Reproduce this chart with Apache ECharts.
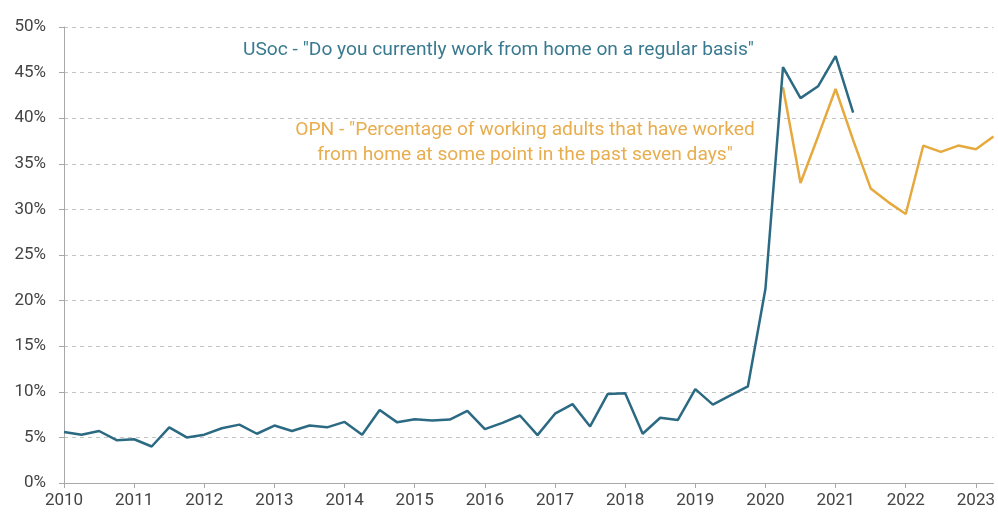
<!DOCTYPE html>
<html>
<head>
<meta charset="utf-8">
<script src="https://cdn.jsdelivr.net/npm/echarts@6/dist/echarts.min.js"></script>
<style>
html, body { margin: 0; padding: 0; background: #fff; }
#chart { width: 998px; height: 514px; }
</style>
</head>
<body>
<div id="chart"></div>
<script>
// quarterly categories, 2010 Q1 .. 2023 Q2
const years = [2010, 2011, 2012, 2013, 2014, 2015, 2016, 2017, 2018, 2019, 2020, 2021, 2022, 2023];
const quarters = [];
years.forEach(function (y) {
    ['Q1', 'Q2', 'Q3', 'Q4'].forEach(function (q) { quarters.push(y + ' ' + q); });
});
quarters.splice(54);  // stops at 2023 Q2

const usocValues = [
    5.6, 5.3, 5.7, 4.7,
    4.8, 4.0, 6.1, 5.0,
    5.3, 6.0, 6.4, 5.4,
    6.3, 5.7, 6.3, 6.1,
    6.7, 5.3, 8.0, 6.65,
    7.0, 6.85, 6.95, 7.9,
    5.9, 6.6, 7.4, 5.25,
    7.6, 8.65, 6.2, 9.75,
    9.85, 5.4, 7.15, 6.9,
    10.3, 8.6, 9.6, 10.6,
    21.3, 45.6, 42.2, 43.5,
    46.8, 40.6
];
// OPN starts in 2020 Q2
const opnStart = '2020 Q2';
const opnValues = [43.4, 32.9, 38.0, 43.2, 37.6, 32.3, 30.8, 29.5, 37.0, 36.3, 37.0, 36.6, 38.0];

const yTicks = [0, 5, 10, 15, 20, 25, 30, 35, 40, 45, 50];

const usocLabel = 'USoc - "Do you currently work from home on a regular basis"';
const opnLabel = 'OPN - "Percentage of working adults that have worked\nfrom home at some point in the past seven days"';

const tealColor = '#2b6a82';
const orangeColor = '#e6a93e';
const font = 'Roboto, "Liberation Sans", sans-serif';

let opnIdx = quarters.indexOf(opnStart);
let opnData = quarters.map(function (q, i) {
    return i >= opnIdx ? opnValues[i - opnIdx] : null;
});

let myChart = echarts.init(document.getElementById('chart'));
const option = {
    animation: false,
    grid: {
        left: 64,
        right: 4,
        top: 27,
        bottom: 31
    },
    xAxis: {
        type: 'category',
        data: quarters,
        boundaryGap: false,
        axisLine: { lineStyle: { color: '#a8a8a8', width: 1 } },
        axisTick: {
            interval: 3,
            length: 5,
            lineStyle: { color: '#a8a8a8' }
        },
        axisLabel: {
            interval: 3,
            margin: 9,
            color: '#444',
            fontSize: 17,
            fontFamily: font,
            formatter: function (v) { return v.split(' ')[0]; }
        },
        splitLine: { show: false }
    },
    yAxis: {
        type: 'value',
        min: yTicks[0],
        max: yTicks[yTicks.length - 1],
        interval: 5,
        axisLine: { show: true, lineStyle: { color: '#a8a8a8', width: 1 } },
        axisTick: { show: true, length: 5, lineStyle: { color: '#a8a8a8' } },
        axisLabel: {
            margin: 18,
            color: '#444',
            fontSize: 17,
            fontFamily: font,
            formatter: '{value}%'
        },
        splitLine: {
            lineStyle: { color: '#c4c4c4', type: [4, 4], width: 1 }
        }
    },
    graphic: [
        {
            type: 'text',
            left: 243,
            top: 41,
            style: {
                text: usocLabel,
                fill: '#3a7a90',
                font: '19.2px ' + font
            }
        },
        {
            type: 'text',
            x: 525,
            y: 118,
            style: {
                text: opnLabel,
                fill: '#e8ad4e',
                font: '19.2px ' + font,
                align: 'center',
                lineHeight: 25
            }
        }
    ],
    series: [
        {
            name: 'USoc',
            type: 'line',
            data: usocValues,
            symbol: 'none',
            lineStyle: { color: tealColor, width: 2.5 },
            z: 3
        },
        {
            name: 'OPN',
            type: 'line',
            data: opnData,
            symbol: 'none',
            lineStyle: { color: orangeColor, width: 2.5 },
            z: 2
        }
    ]
};
myChart.setOption(option);
</script>
</body>
</html>
